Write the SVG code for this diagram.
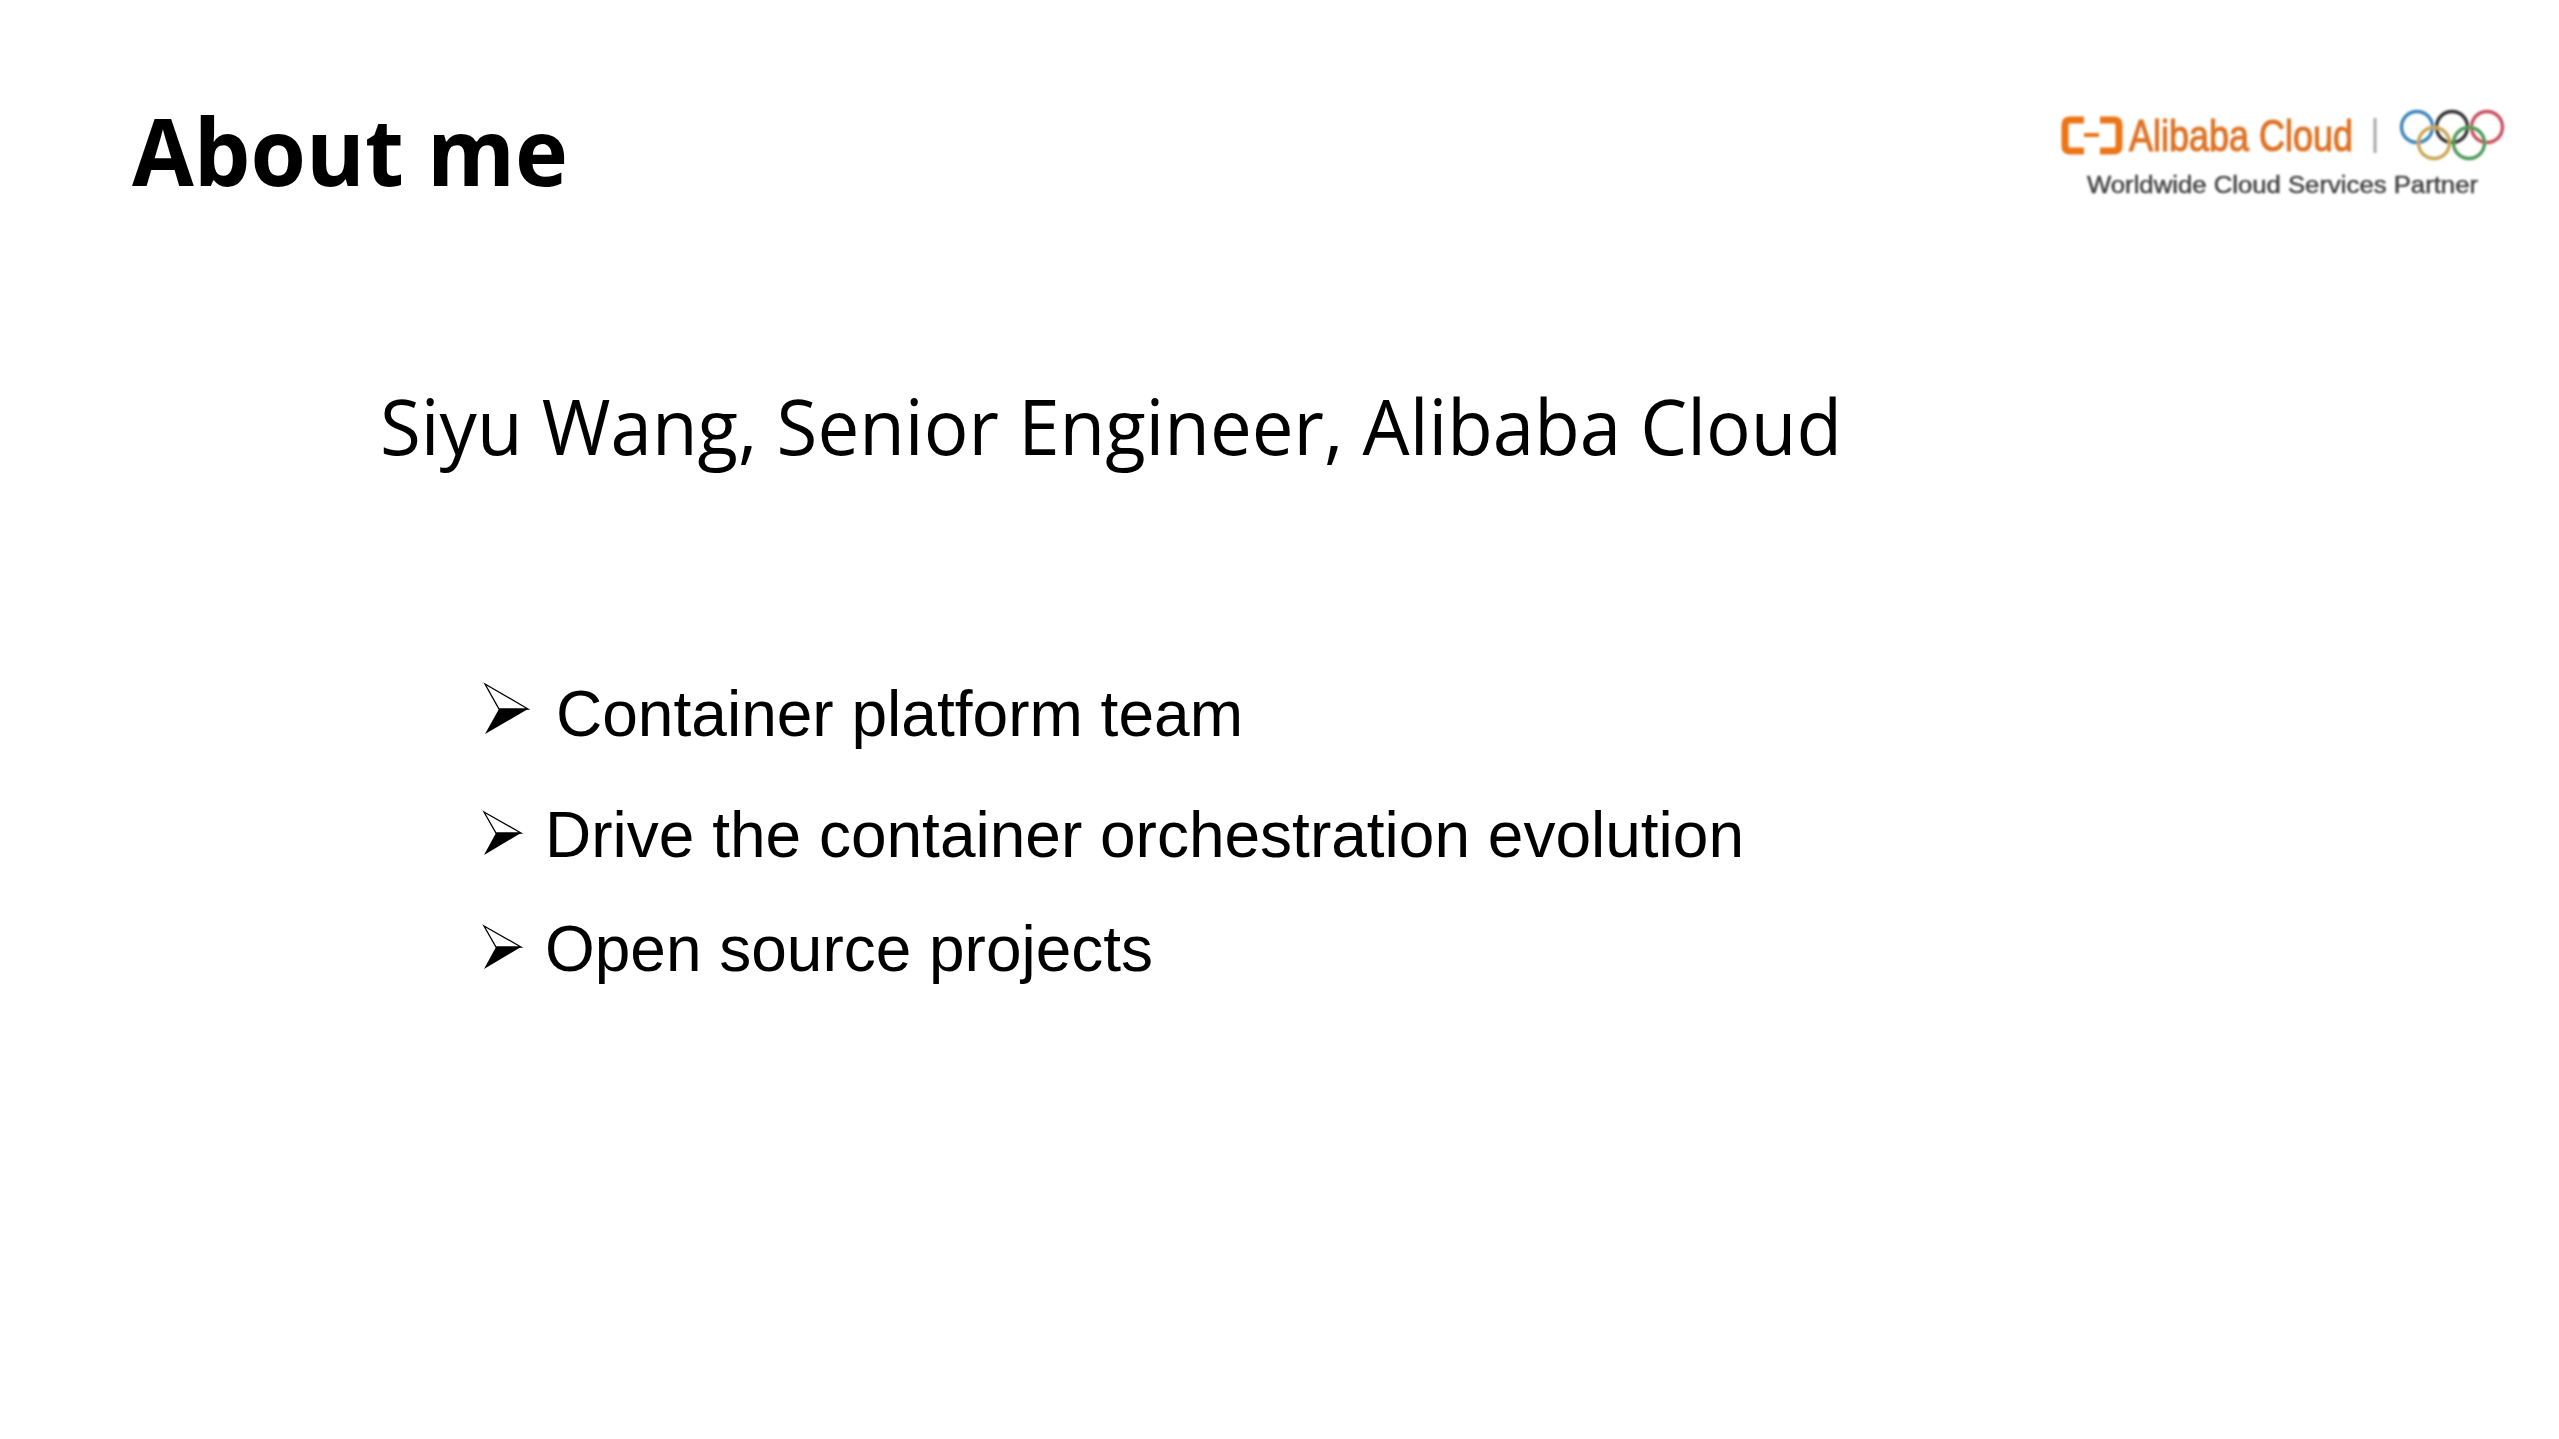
<svg xmlns="http://www.w3.org/2000/svg" width="2559" height="1439" viewBox="0 0 2559 1439">
<defs>
<filter id="soft" x="-5%" y="-5%" width="110%" height="110%"><feGaussianBlur stdDeviation="1"/></filter>
<g id="bullet"><path d="M1 -21L38 0L13 0Z" fill="#fff" stroke="#000" stroke-width="1.300"/><path d="M1 22L38 0L13 0Z" fill="#000"/></g>
</defs>
<style>
.t{font-family:"Open Sans","Noto Sans",sans-serif;fill:#000}
.b{font-family:"Liberation Sans",Arial,sans-serif;font-size:64px;fill:#000}
.ring{fill:none;stroke-width:3.400}
</style>
<rect width="2559" height="1439" fill="#fff"/>
<text id="title" class="t" x="132" y="186" font-size="94" font-weight="700" textLength="436" lengthAdjust="spacingAndGlyphs">About me</text>
<text id="subtitle" class="t" x="380" y="455" font-size="76" textLength="1462" lengthAdjust="spacingAndGlyphs">Siyu Wang, Senior Engineer, Alibaba Cloud</text>
<g id="item1">
<path d="M485 684L528 709L499 709Z" fill="#fff" stroke="#000" stroke-width="1.300"/><path d="M485 734L528 709L499 709Z" fill="#000"/>
<text class="b" x="556" y="736" textLength="687" lengthAdjust="spacingAndGlyphs">Container platform team</text></g>
<g id="item2"><use href="#bullet" x="483" y="833"/><text class="b" x="545" y="857" textLength="1199" lengthAdjust="spacingAndGlyphs">Drive the container orchestration evolution</text></g>
<g id="item3"><use href="#bullet" x="483" y="947"/><text class="b" x="545" y="971" textLength="608" lengthAdjust="spacingAndGlyphs">Open source projects</text></g>
<g id="logo" filter="url(#soft)">
<path d="M2084 120H2070Q2065 120 2065 125V146Q2065 151 2070 151H2084M2100 120H2114Q2119 120 2119 125V146Q2119 151 2114 151H2100" fill="none" stroke="#ec7414" stroke-width="7"/>
<rect x="2084" y="133" width="15" height="4" fill="#ec7414"/>
<text x="2129" y="151" font-family="'Liberation Sans Narrow','Liberation Sans',sans-serif" font-size="44" fill="#dd7426" stroke="#dd7426" stroke-width="1.200" textLength="224" lengthAdjust="spacingAndGlyphs">Alibaba Cloud</text>
<rect x="2373.500" y="118" width="3" height="35" fill="#a8a8a8"/>
<circle class="ring" cx="2417" cy="127" r="15.500" stroke="#3d84b8"/>
<circle class="ring" cx="2452" cy="127" r="15.500" stroke="#333"/>
<circle class="ring" cx="2487" cy="127" r="15.500" stroke="#c8505f"/>
<circle class="ring" cx="2434" cy="143" r="15.500" stroke="#c9a757"/>
<circle class="ring" cx="2469" cy="143" r="15.500" stroke="#4e9a58"/>
<text x="2087" y="193" font-family="'Liberation Sans',Arial,sans-serif" font-size="23" fill="#444" stroke="#444" stroke-width="0.500" textLength="391" lengthAdjust="spacingAndGlyphs">Worldwide Cloud Services Partner</text>
</g>
</svg>
